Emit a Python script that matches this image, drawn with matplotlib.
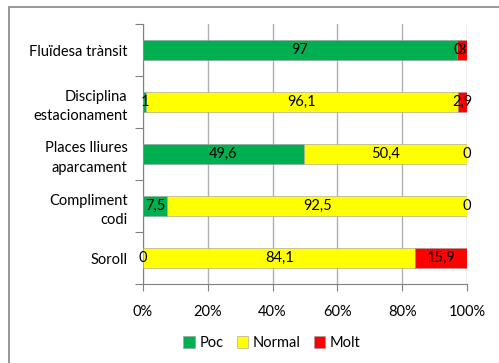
import matplotlib.pyplot as plt
from matplotlib.patches import Rectangle
import numpy as np

categories = ["Fluïdesa trànsit", "Disciplina\nestacionament", "Places lliures\naparcament",
              "Compliment\ncodi", "Soroll"]
poc = [97, 1, 49.6, 7.5, 0]
normal = [0, 96.1, 50.4, 92.5, 84.1]
molt = [3, 2.9, 0, 0, 15.9]
series_names = ["Poc", "Normal", "Molt"]
colors = ["#00B050", "#FFFF00", "#FF0000"]
xticks = [0, 20, 40, 60, 80, 100]

plt.rcParams["font.family"] = ["Lato", "DejaVu Sans"]

fig = plt.figure(figsize=(4.99, 3.63), dpi=100)
ax = fig.add_axes([143 / 499, 1 - 284 / 363, 324 / 499, 260 / 363])

y = np.arange(len(categories))
left = np.zeros(len(categories))
for vals, name, col in zip([poc, normal, molt], series_names, colors):
    vals = np.array(vals, dtype=float)
    ax.barh(y, vals, left=left, height=0.4, color=col, label=name, zorder=3,
            edgecolor="#9a9a9a", linewidth=0.4)
    for yi, l, v in zip(y, left, vals):
        txt = f"{v:g}".replace(".", ",")
        ax.text(l + v / 2, yi, txt, ha="center", va="center", fontsize=10.5, zorder=4)
    left += vals

ax.set_xlim(0, 100)
ax.set_ylim(len(categories) - 0.5, -0.5)
ax.set_xticks(xticks)
ax.set_xticklabels([f"{t}%" for t in xticks], fontsize=10.5)
ax.set_yticks(np.arange(len(categories) + 1) - 0.5)
ax.set_yticklabels([])
ax.set_yticks(y, minor=True)
ax.set_yticklabels(categories, minor=True, fontsize=10.5, ha="right", linespacing=1.5)
ax.tick_params(axis="y", which="minor", length=0, pad=11)
ax.tick_params(axis="y", which="major", length=6, color="#808080")
ax.tick_params(axis="x", length=5, color="#808080", pad=10)
ax.grid(axis="x", color="#b0b0b0", linewidth=1, zorder=0)
for s in ["top", "right"]:
    ax.spines[s].set_visible(False)
for s in ["left", "bottom"]:
    ax.spines[s].set_color("#808080")

fig.legend(loc="center", bbox_to_anchor=(272 / 499, 1 - 343 / 363), ncol=3, frameon=False,
           fontsize=10.5, handlelength=0.8, handleheight=0.8, handletextpad=0.3,
           columnspacing=0.9)

fig.add_artist(Rectangle((9 / 499, -0.02), 1.05, 1 - 7 / 363 + 0.02,
                         transform=fig.transFigure, fill=False, edgecolor="#888888",
                         linewidth=1.2))

fig.savefig("out.png", dpi=100)
